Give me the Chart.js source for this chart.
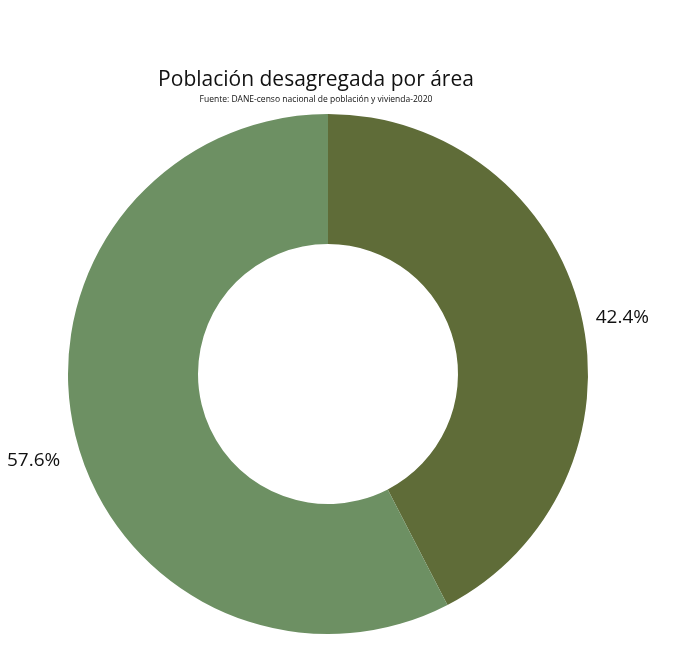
<!DOCTYPE html>
<html>
<head>
<meta charset="utf-8">
<script src="https://cdn.jsdelivr.net/npm/chart.js@4"></script>
<style>
    html, body { margin: 0; padding: 0; background: #fff; }
    #wrap { position: relative; width: 674px; height: 656px; }
    #title { position: absolute; left: 0; width: 632px; top: 64px; margin: 0; text-align: center;
        font-family: "Open Sans", sans-serif; font-weight: 400; font-size: 21px; color: #111; }
    #subtitle { position: absolute; left: 0; width: 632px; top: 93px; margin: 0; text-align: center;
        font-family: "Open Sans", sans-serif; font-size: 8.5px; color: #111; }
    canvas { position: absolute; left: 0; top: 0; }
</style>
</head>
<body>
<div id="wrap">
    <canvas id="chart" width="674" height="656"></canvas>
    <h1 id="title">Población desagregada por área</h1>
    <p id="subtitle">Fuente: DANE-censo nacional de población y vivienda-2020</p>
</div>
<script>
const categories = ["Rural", "Urbana"];
const shares = [42.4, 57.6];
const sliceColors = ["#5f6c38", "#6d9063"];

// draws the percentage next to each slice, outside the ring
const outsideLabels = {
    id: "outsideLabels",
    afterDatasetsDraw(chart) {
        const ctx = chart.ctx;
        const meta = chart.getDatasetMeta(0);
        ctx.save();
        ctx.font = "19px 'Open Sans', sans-serif";
        ctx.fillStyle = "#111";
        ctx.textAlign = "center";
        ctx.textBaseline = "middle";
        meta.data.forEach((arc, i) => {
            const mid = (arc.startAngle + arc.endAngle) / 2;
            const r = arc.outerRadius + 43;
            const x = arc.x + Math.cos(mid) * r;
            const y = arc.y + Math.sin(mid) * r + 15;
            ctx.fillText(shares[i].toFixed(1) + "%", x, y);
        });
        ctx.restore();
    }
};

document.addEventListener("DOMContentLoaded", () => {
    const ctx = document.getElementById("chart").getContext("2d");
    new Chart(ctx, {
        type: "doughnut",
        data: {
            labels: categories,
            datasets: [{
                data: shares,
                backgroundColor: sliceColors,
                borderWidth: 0
            }]
        },
        options: {
            responsive: false,
            animation: false,
            cutout: "50%",
            layout: {
                padding: { left: 68, right: 86, top: 114, bottom: 22 }
            },
            plugins: {
                legend: { display: false },
                tooltip: { enabled: false }
            }
        },
        plugins: [outsideLabels]
    });
});
</script>
</body>
</html>
